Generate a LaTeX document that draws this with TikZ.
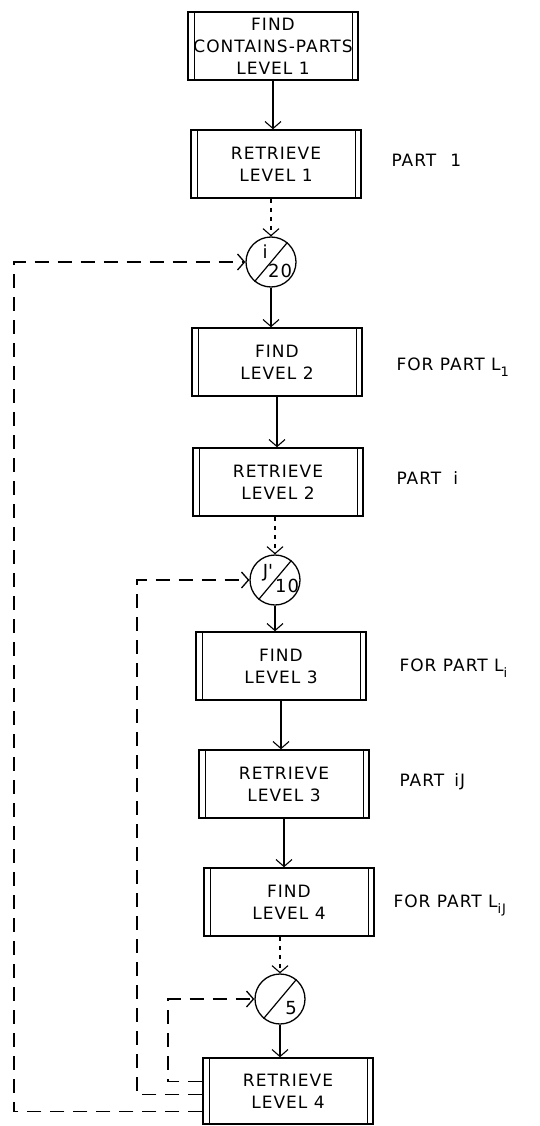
\documentclass[tikz,border=0pt]{standalone}
\usepackage{fontspec}
\setmainfont{DejaVu Sans}[LetterSpace=6]
\usetikzlibrary{arrows.meta,calc}
\newcommand{\lsub}[1]{\raisebox{-6pt}{\fontsize{13}{13}\selectfont #1}}
\begin{document}
\begin{tikzpicture}[x=1pt,y=1pt,
  every node/.style={font=\fontsize{17}{22}\selectfont},
  proc/.style={draw, line width=1.5pt, rectangle, minimum width=170pt, minimum height=68pt, align=center, inner sep=1pt,
    path picture={
      \draw[line width=0.9pt] ([xshift=6pt]path picture bounding box.north west) -- ([xshift=6pt]path picture bounding box.south west);
      \draw[line width=0.9pt] ([xshift=-6pt]path picture bounding box.north east) -- ([xshift=-6pt]path picture bounding box.south east);}},
  conn/.style={draw, circle, line width=1.3pt, minimum size=50pt, inner sep=0pt},
  side/.style={anchor=west},
  ctext/.style={font=\fontsize{18}{18}\selectfont, inner sep=0pt},
  barb/.style={-{Straight Barb[length=7pt,width=16pt]}},
  flow/.style={barb, line width=1.1pt},
  dotline/.style={barb, line width=1.1pt, dash pattern=on 4pt off 5pt},
  loopline/.style={barb, line width=1.3pt, dash pattern=on 14pt off 9pt},
  diag/.style={line width=1.2pt},
]
\useasboundingbox (0,0) rectangle (539,-1126);

% boxes
\node[proc] (b1) at (273,-46) {FIND\\CONTAINS-PARTS\\LEVEL 1};
\node[proc] (b2) at (276,-164) {RETRIEVE\\LEVEL 1};
\node[proc] (b3) at (277,-362) {FIND\\LEVEL 2};
\node[proc] (b4) at (278,-482) {RETRIEVE\\LEVEL 2};
\node[proc] (b5) at (281,-666) {FIND\\LEVEL 3};
\node[proc] (b6) at (284,-784) {RETRIEVE\\LEVEL 3};
\node[proc] (b7) at (289,-902) {FIND\\LEVEL 4};
\node[proc, minimum height=66pt] (b8) at (288,-1091) {RETRIEVE\\LEVEL 4};

% side labels
\node[side] (t2) at (388,-160) {PART\hspace{14pt}1};
\node[side] (t3) at (393,-367) {FOR PART L\lsub{1}};
\node[side] (t4) at (393,-478) {PART\hspace{12pt}i};
\node[side] (t5) at (396,-668) {FOR PART L\lsub{i}};
\node[side] (t6) at (396,-782) {PART\hspace{10pt}iJ};
\node[side] (t7) at (390,-905) {FOR PART L\lsub{iJ}};

% connector circles
\node[conn] (c1) at (271,-262) {};
\draw[diag] (c1.230) -- (c1.50);
\node[ctext] (c1a) at ($(c1)+(-6,10)$) {i};
\node[ctext] (c1b) at ($(c1)+(9,-9)$) {20};

\node[conn] (c2) at (275,-580) {};
\draw[diag] (c2.230) -- (c2.50);
\node[ctext] (c2a) at ($(c2)+(-7,7)$) {J\textquotesingle};
\node[ctext] (c2b) at ($(c2)+(12,-6)$) {10};

\node[conn] (c3) at (280,-999) {};
\draw[diag] (c3.230) -- (c3.50);
\node[ctext] (c3b) at ($(c3)+(11,-9)$) {5};

% main flow
\draw[flow] (b1.south) -- (b1.south |- b2.north);
\draw[dotline] (b2.south -| c1.north) -- (c1.north);
\draw[flow] (c1.south) -- (c1.south |- b3.north);
\draw[flow] (b3.south) -- (b3.south |- b4.north);
\draw[dotline] (b4.south -| c2.north) -- (c2.north);
\draw[flow] (c2.south) -- (c2.south |- b5.north);
\draw[flow] (b5.south) -- (b5.south |- b6.north);
\draw[flow] (b6.south) -- (b6.south |- b7.north);
\draw[dotline] (b7.south -| c3.north) -- (c3.north);
\draw[flow] (c3.south) -- (c3.south |- b8.north);

% feedback loops
\coordinate (k1) at (14,-262);
\coordinate (k2) at (137,-580);
\coordinate (k3) at (168,-999);
\coordinate (s1) at ($(b8.north west)+(0,-54)$);
\coordinate (s2) at ($(b8.north west)+(0,-37)$);
\coordinate (s3) at ($(b8.north west)+(0,-24)$);
\draw[loopline] (s1) -- (s1 -| k1) |- (c1.west);
\draw[loopline] (s2) -- (s2 -| k2) |- (c2.west);
\draw[loopline] (s3) -- (s3 -| k3) |- (c3.west);
\end{tikzpicture}
\end{document}
